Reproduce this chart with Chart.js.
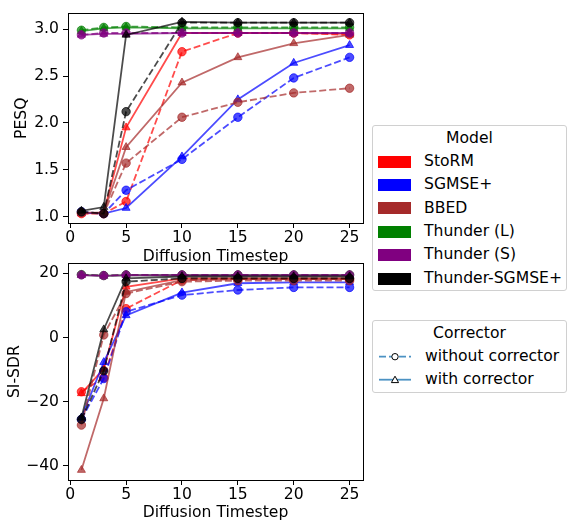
<!DOCTYPE html>
<html>
<head>
<meta charset="utf-8">
<script src="https://cdn.jsdelivr.net/npm/chart.js@4.4.1/dist/chart.umd.min.js"></script>
<style>
    body { margin: 0; background: #fff; font-family: 'DejaVu Sans', sans-serif; }
    #wrap { position: relative; width: 568px; height: 523px; overflow: hidden; }
    canvas { position: absolute; left: 0; }
    .legend { position: absolute; left: 372px; width: 195px; border: 1px solid #d0d0d0; border-radius: 3px;
              background: rgba(255,255,255,0.8); font-size: 15.6px; color: #000; box-sizing: border-box; }
    .legend .row { height: 23.4px; line-height: 23.4px; white-space: nowrap; position: relative; }
    .legend .title { text-align: center; }
    .patch { position: absolute; left: 5px; top: 5.7px; width: 33px; height: 12px; }
    .legend .label { position: absolute; left: 51px; }
    .legend svg { position: absolute; left: 5px; top: 0; }
    .legend .label2 { position: absolute; left: 52px; }
</style>
</head>
<body>
<div id="wrap">
    <canvas id="sdrChart" width="370" height="273" style="top:250px"></canvas>
    <canvas id="pesqChart" width="370" height="270" style="top:0px"></canvas>
    <div class="legend" id="modelLegend" style="top:125px; height:166px; padding-top:0.5px"></div>
    <div class="legend" id="corrLegend" style="top:320px; height:73px; padding-top:0.5px"></div>
</div>
<script>
const timesteps = [1, 3, 5, 10, 15, 20, 25];
const xTicks = [0, 5, 10, 15, 20, 25];
const pesqTicks = [1.0, 1.5, 2.0, 2.5, 3.0];
const sdrTicks = [-40, -20, 0, 20];

const models = ['StoRM', 'SGMSE+', 'BBED', 'Thunder (L)', 'Thunder (S)', 'Thunder-SGMSE+'];
const modelColors = ['255,0,0', '0,0,255', '165,42,42', '0,128,0', '128,0,128', '0,0,0'];
const correctors = ['without corrector', 'with corrector'];

// PESQ, without / with corrector, one row per model
const pesqWithout = [
    [1.03, 1.03, 1.16, 2.76, 2.96, 2.96, 2.94],
    [1.05, 1.03, 1.28, 1.61, 2.06, 2.48, 2.70],
    [1.04, 1.03, 1.57, 2.06, 2.22, 2.32, 2.37],
    [2.99, 3.02, 3.03, 3.02, 3.02, 3.02, 3.02],
    [2.94, 2.96, 2.96, 2.96, 2.96, 2.96, 2.96],
    [1.05, 1.03, 2.12, 3.07, 3.07, 3.07, 3.07]
];
const pesqWith = [
    [1.03, 1.04, 1.95, 2.96, 2.96, 2.96, 2.95],
    [1.04, 1.03, 1.09, 1.64, 2.25, 2.64, 2.83],
    [1.04, 1.04, 1.74, 2.43, 2.70, 2.85, 2.94],
    [2.98, 3.01, 3.02, 3.01, 3.01, 3.01, 3.01],
    [2.94, 2.95, 2.95, 2.96, 2.96, 2.96, 2.96],
    [1.06, 1.10, 2.94, 3.08, 3.07, 3.07, 3.07]
];
// SI-SDR
const sdrWithout = [
    [-16.9, -12.5, 9.0, 17.9, 18.2, 18.2, 18.2],
    [-25.5, -12.8, 8.0, 13.2, 14.8, 15.6, 15.6],
    [-27.3, 0.8, 13.7, 17.4, 17.7, 17.7, 17.7],
    [19.6, 19.3, 19.5, 19.5, 19.5, 19.5, 19.5],
    [19.5, 19.3, 19.5, 19.5, 19.5, 19.5, 19.5],
    [-25.5, -10.4, 17.4, 18.4, 18.4, 18.4, 18.4]
];
const sdrWith = [
    [-17.4, -9.8, 15.8, 18.4, 18.4, 18.4, 18.4],
    [-25.0, -7.7, 6.9, 14.0, 16.9, 17.2, 17.2],
    [-41.3, -19.0, 14.2, 17.9, 18.2, 18.2, 18.2],
    [19.5, 19.2, 19.4, 19.4, 19.4, 19.4, 19.4],
    [19.4, 19.2, 19.4, 19.4, 19.4, 19.4, 19.4],
    [-25.0, 2.5, 18.4, 19.0, 19.0, 19.0, 19.0]
];

Chart.defaults.font.family = "'DejaVu Sans', sans-serif";
Chart.defaults.font.size = 15.6;
Chart.defaults.color = '#000';

// full box around the plot area, like matplotlib spines
const boxPlugin = {
    id: 'box',
    afterDraw(chart) {
        var a = chart.chartArea, ctx = chart.ctx;
        ctx.save();
        ctx.strokeStyle = '#000';
        ctx.lineWidth = 1;
        ctx.strokeRect(Math.round(a.left) + 0.5, Math.round(a.top) + 0.5,
            Math.round(a.right - a.left), Math.round(a.bottom - a.top));
        ctx.restore();
    }
};

function buildDatasets(without, withC) {
    var sets = [];
    var n = 0;
    for (var i = 0; i < models.length; i++) {
        var c = 'rgba(' + modelColors[i] + ',0.7)';
        [without[i], withC[i]].forEach(function(vals, k) {
            sets.push({
                label: models[i] + ' ' + correctors[k],
                data: timesteps.map((t, j) => ({x: t, y: vals[j]})),
                borderColor: c,
                backgroundColor: c,
                borderWidth: 1.8,
                borderDash: k === 0 ? [7, 3] : [],
                pointStyle: k === 0 ? 'circle' : 'triangle',
                pointRadius: k === 0 ? 4.2 : 4.6,
                pointBorderWidth: 1,
                pointBorderColor: c,
                pointBackgroundColor: c,
                order: 100 - n
            });
            n++;
        });
    }
    return sets;
}

function makeChart(id, without, withC, yMin, yMax, yTickVals, yTitle, yTitlePad, padTop, xHeight, xTitlePad, fmt) {
    var ctx = document.getElementById(id).getContext('2d');
    return new Chart(ctx, {
        type: 'line',
        data: { datasets: buildDatasets(without, withC) },
        options: {
            responsive: false,
            animation: false,
            layout: { padding: { top: padTop, right: 7, left: 0, bottom: 0 } },
            plugins: { legend: { display: false }, tooltip: { enabled: false } },
            scales: {
                x: {
                    type: 'linear',
                    min: -0.2,
                    max: 26.2,
                    afterBuildTicks: function(s) { s.ticks = xTicks.map(v => ({value: v})); },
                    afterFit: function(s) { s.height = xHeight; },
                    grid: { drawOnChartArea: false, drawTicks: true, tickLength: 5, color: '#000' },
                    border: { display: true, color: '#000', width: 1 },
                    ticks: { padding: 1, maxRotation: 0, callback: v => String(v) },
                    title: { display: true, text: 'Diffusion Timestep', padding: { top: 0, bottom: xTitlePad } }
                },
                y: {
                    type: 'linear',
                    min: yMin,
                    max: yMax,
                    afterBuildTicks: function(s) { s.ticks = yTickVals.map(v => ({value: v})); },
                    afterFit: function(s) { s.width = 68; },
                    grid: { drawOnChartArea: false, drawTicks: true, tickLength: 5, color: '#000' },
                    border: { display: true, color: '#000', width: 1 },
                    ticks: { padding: 4, callback: fmt },
                    title: { display: true, text: yTitle, padding: { top: yTitlePad, bottom: 0 } }
                }
            }
        },
        plugins: [boxPlugin]
    });
}

makeChart('pesqChart', pesqWithout, pesqWith, 0.93, 3.17, pesqTicks, 'PESQ', 12.6, 10, 47, 3.6,
    v => v.toFixed(1));
makeChart('sdrChart', sdrWithout, sdrWith, -44.4, 23.1, sdrTicks, 'SI-SDR', 5.6, 13, 43, 0.6,
    v => String(v).replace('-', '\u2212'));

// legends
var ml = document.getElementById('modelLegend');
var html = '<div class="row title">Model</div>';
models.forEach(function(m, i) {
    html += '<div class="row"><span class="patch" style="background:rgb(' + modelColors[i] + ')"></span>' +
        '<span class="label">' + m + '</span></div>';
});
ml.innerHTML = html;

var cl = document.getElementById('corrLegend');
var h2 = '<div class="row title">Corrector</div>';
correctors.forEach(function(c, k) {
    var dash = k === 0 ? ' stroke-dasharray="7,3"' : '';
    var mark = k === 0
        ? '<circle cx="17" cy="11.7" r="3.2" fill="#fff" stroke="#000" stroke-width="1"/>'
        : '<polygon points="17,8.2 20.6,14.6 13.4,14.6" fill="#fff" stroke="#000" stroke-width="1"/>';
    h2 += '<div class="row"><svg width="34" height="23.4"><line x1="1" y1="11.7" x2="33" y2="11.7" stroke="rgba(31,119,180,0.8)" stroke-width="1.8"' + dash + '/>' +
        mark + '</svg><span class="label2">' + c + '</span></div>';
});
cl.innerHTML = h2;
</script>
</body>
</html>
